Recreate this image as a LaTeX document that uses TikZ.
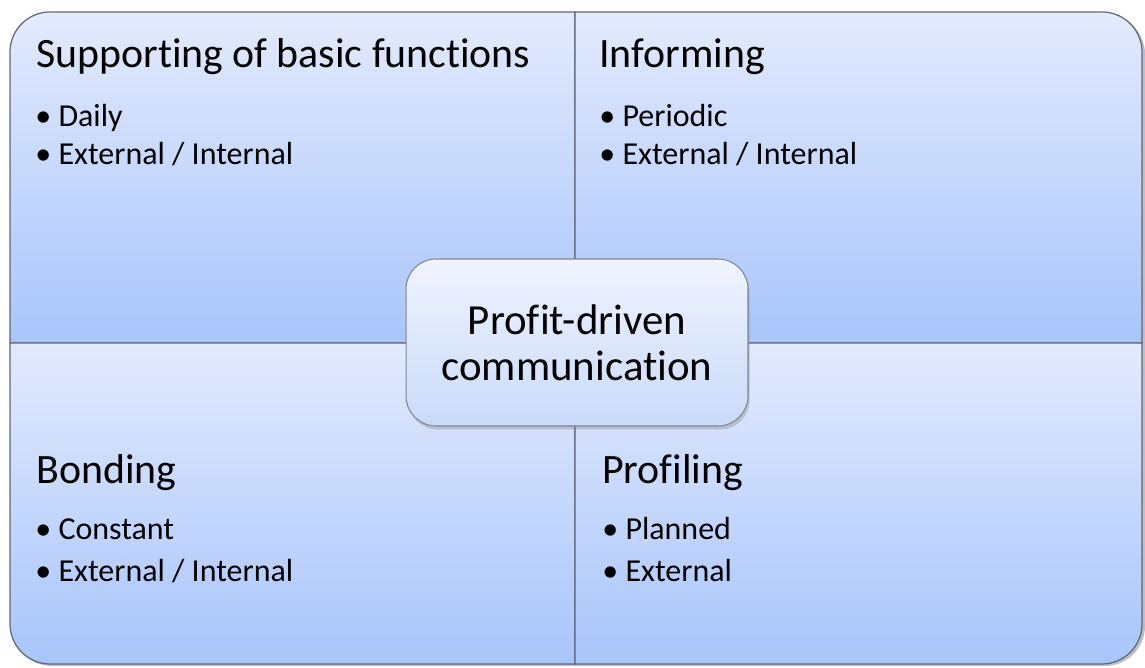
\documentclass[tikz,border=0pt]{standalone}
\usepackage{fontspec}
\setmainfont{Carlito}[RawFeature={-liga;-clig;-calt}]
\usetikzlibrary{shadows}

\definecolor{quadtop}{RGB}{227,234,253}
\definecolor{quadbot}{RGB}{168,197,251}
\definecolor{hubtop}{RGB}{240,244,254}
\definecolor{hubbot}{RGB}{201,218,250}
\definecolor{edge}{RGB}{96,104,118}

\tikzset{
  quad/.style={top color=quadtop, bottom color=quadbot, draw=edge, line width=0.7pt},
  head/.style={anchor=base west, inner sep=0pt, font=\fontsize{23.8}{28}\selectfont},
  item/.style={anchor=base west, inner sep=0pt, font=\fontsize{18.2}{21}\selectfont},
  hub/.style={draw=edge!80, line width=0.6pt, rounded corners=0.6cm,
    top color=hubtop, bottom color=hubbot, align=center,
    minimum width=6.84cm, minimum height=3.34cm,
    font=\fontsize{24.4}{26}\selectfont,
    drop shadow={shadow xshift=1pt, shadow yshift=-2pt, opacity=0.35}}
}

\begin{document}
\begin{tikzpicture}[x=0.02cm,y=0.02cm]
\useasboundingbox (0,0) rectangle (1145,668);
% shadow under the whole block
\fill[black, opacity=0.25, rounded corners=0.8cm] (12,2) rectangle (1145,654);
% four quadrants
\draw[quad] (575,325)--(575,656)--(50,656) arc[start angle=90,end angle=180,radius=0.8cm]--(10,325)--cycle;
\draw[quad] (575,325)--(575,656)--(1102,656) arc[start angle=90,end angle=0,radius=0.8cm]--(1142,325)--cycle;
\draw[quad] (575,325)--(575,4)--(50,4) arc[start angle=270,end angle=180,radius=0.8cm]--(10,325)--cycle;
\draw[quad] (575,325)--(575,4)--(1102,4) arc[start angle=270,end angle=360,radius=0.8cm]--(1142,325)--cycle;
% top left
\node[head] (supphead) at (36,600) {Supporting of basic functions};
\node[item] (suppone) at (35,541) {\textbullet~Daily};
\node[item] (supptwo) at (35,503) {\textbullet~External / Internal};
% top right
\node[head] (infohead) at (599,600) {Informing};
\node[item] (infoone) at (599,541) {\textbullet~Periodic};
\node[item] (infotwo) at (599,503) {\textbullet~External / Internal};
% bottom left
\node[head] (bondhead) at (36,184) {Bonding};
\node[item] (bondone) at (35,128) {\textbullet~Constant};
\node[item] (bondtwo) at (35,86) {\textbullet~External / Internal};
% bottom right
\node[head] (profhead) at (602,184) {Profiling};
\node[item] (profone) at (602,128) {\textbullet~Planned};
\node[item] (proftwo) at (602,86) {\textbullet~External};
% centre
\node[hub] (hub) at (577,325.5) {Profit-driven\\communication};
\end{tikzpicture}
\end{document}
